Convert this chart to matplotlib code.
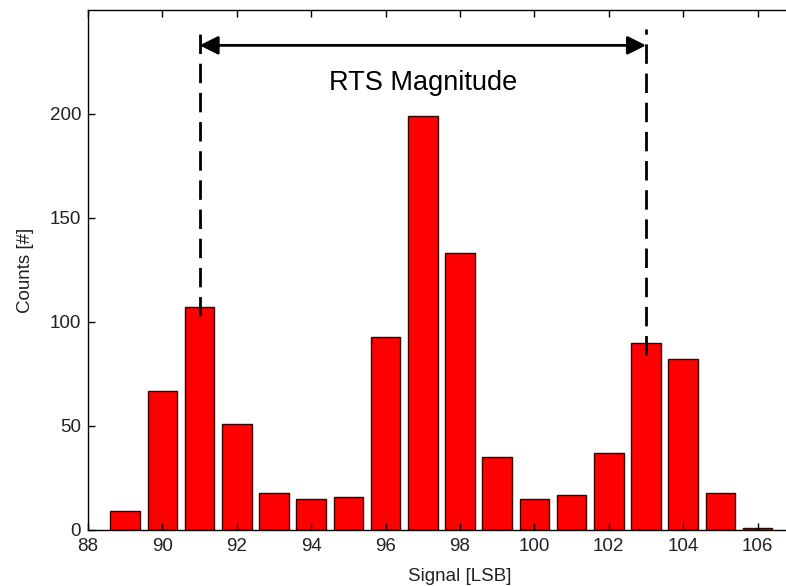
import matplotlib.pyplot as plt

signal = [89, 90, 91, 92, 93, 94, 95, 96, 97, 98, 99, 100, 101, 102, 103, 104, 105, 106]
counts = [9, 67, 107, 51, 18, 15, 16, 93, 199, 133, 35, 15, 17, 37, 90, 82, 18, 1]
xticks = [88, 90, 92, 94, 96, 98, 100, 102, 104, 106]
yticks = [0, 50, 100, 150, 200]

# RTS annotation: level markers and their lower ends
rts_left, rts_right = 91, 103
rts_left_bottom, rts_right_bottom = 103, 84
rts_top = 241
arrow_y = 233

plt.rcParams['font.family'] = ['Liberation Sans', 'DejaVu Sans']

fig = plt.figure(figsize=(7.86, 5.86), dpi=100)
ax = fig.add_axes([88 / 786, 56 / 586, 744 / 786, 520 / 586])

ax.bar(signal, counts, width=0.8, color='#ff0000', edgecolor='#3a0000', linewidth=1)

ax.set_xlim(88, 108)
ax.set_ylim(0, 250)
ax.set_xticks(xticks)
ax.set_yticks(yticks)
ax.tick_params(direction='in', top=True, right=True, length=5, width=1,
               labelsize=13.5, labelcolor='#222222')
ax.tick_params(axis='x', pad=6)
ax.tick_params(axis='y', pad=5)
for s in ax.spines.values():
    s.set_linewidth(1)

ax.vlines([rts_left], rts_left_bottom, rts_top, colors='black', linestyles=(0, (7, 3.5)), linewidth=2)
ax.vlines([rts_right], rts_right_bottom, rts_top, colors='black', linestyles=(0, (7, 3.5)), linewidth=2)
ax.annotate('', xy=(rts_left, arrow_y), xytext=(rts_right, arrow_y),
            arrowprops=dict(arrowstyle='<|-|>', color='black', lw=2, mutation_scale=28,
                            shrinkA=0, shrinkB=0))
ax.text((rts_left + rts_right) / 2, 215, 'RTS Magnitude', fontsize=19.5,
        ha='center', va='center')

ax.set_xlabel('Signal [LSB]', fontsize=13.5, color='#222222', labelpad=9)
ax.set_ylabel('Counts [#]', fontsize=13.5, color='#222222', labelpad=11)

fig.savefig('out.png', dpi=100)
